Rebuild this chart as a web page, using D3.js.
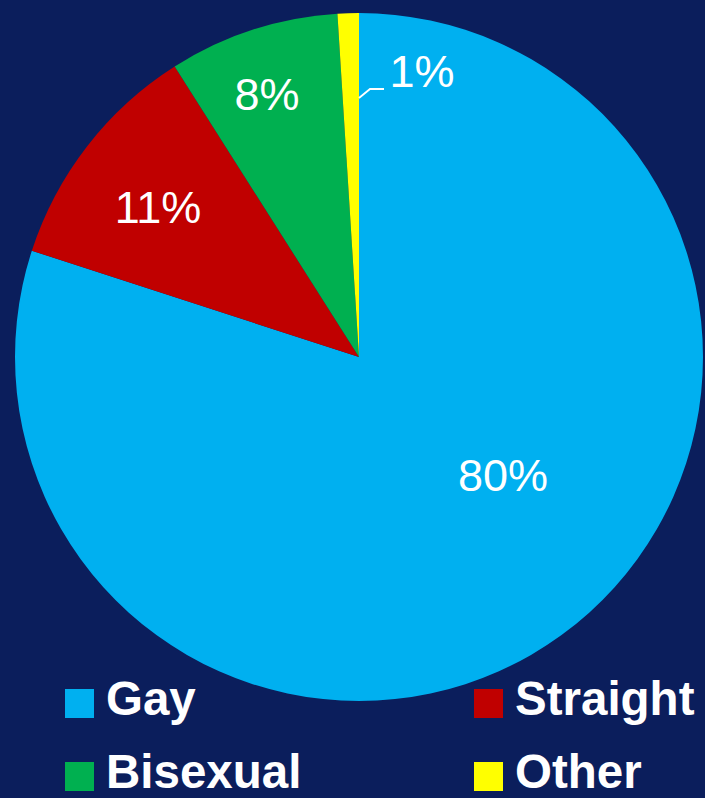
<!DOCTYPE html>
<html>
<head>
<meta charset="utf-8">
<script src="https://cdn.jsdelivr.net/npm/d3@7/dist/d3.min.js"></script>
<style>
  html, body { margin: 0; padding: 0; background: #0b1e5c; }
  svg { display: block; }
</style>
</head>
<body>
<svg id="chart" width="705" height="798"></svg>
<script>
// Survey breakdown by orientation (percent)
const categories = ["Gay", "Straight", "Bisexual", "Other"];
const values = [80, 11, 8, 1];
const colors = ["#00b0f0", "#c00000", "#00b050", "#ffff00"];

const W = 705, H = 798;
const cx = 359, cy = 357, radius = 344;

const svg = d3.select("#chart");
svg.append("rect").attr("width", W).attr("height", H).attr("fill", "#0b1e5c");

const data = categories.map((c, i) => ({ name: c, value: values[i], color: colors[i] }));

const pie = d3.pie().value(d => d.value).sort(null).startAngle(0).endAngle(2 * Math.PI);
const arc = d3.arc().innerRadius(0).outerRadius(radius);
const arcs = pie(data);

const g = svg.append("g").attr("transform", `translate(${cx},${cy})`);

g.selectAll("path.slice")
  .data(arcs)
  .enter().append("path")
  .attr("class", "slice")
  .attr("d", arc)
  .attr("fill", d => d.data.color);

// Label placement relative to the pie centre (text baseline, centred)
const labelPos = {
  Gay: [144, 134],
  Straight: [-201, -134],
  Bisexual: [-92, -247],
  Other: [63, -270]
};

const fmt = v => d3.format(".0f")(v) + "%";

g.selectAll("text.pct")
  .data(arcs)
  .enter().append("text")
  .attr("class", "pct")
  .attr("x", d => labelPos[d.data.name][0])
  .attr("y", d => labelPos[d.data.name][1])
  .attr("text-anchor", "middle")
  .attr("fill", "#ffffff")
  .style("font-family", "'Liberation Sans', Arial, sans-serif")
  .style("font-size", "45px")
  .text(d => fmt(d.data.value));

// Leader line from the thin "Other" slice to its label
const other = arcs[arcs.length - 1];
const leadR = 259;
const leadA = other.endAngle;
const p0 = [Math.sin(leadA) * leadR, -Math.cos(leadA) * leadR];
g.append("path")
  .attr("d", d3.line()([p0, [p0[0] + 11, p0[1] - 9], [p0[0] + 25, p0[1] - 9]]))
  .attr("fill", "none")
  .attr("stroke", "#ffffff")
  .attr("stroke-width", 1.8);

// Legend: two columns, two rows
const legendCols = [65, 474];
const legendRows = [689, 762];
const legend = svg.append("g");
data.forEach((d, i) => {
  const col = i % 2, row = Math.floor(i / 2);
  const x = legendCols[col], y = legendRows[row];
  legend.append("rect")
    .attr("x", x).attr("y", y)
    .attr("width", 29).attr("height", 29)
    .attr("fill", d.color);
  legend.append("text")
    .attr("x", x + 41)
    .attr("y", y + 26)
    .attr("fill", "#ffffff")
    .style("font-family", "'Liberation Sans', Arial, sans-serif")
    .style("font-weight", "bold")
    .style("font-size", "47.5px")
    .text(d.name);
});
</script>
</body>
</html>
